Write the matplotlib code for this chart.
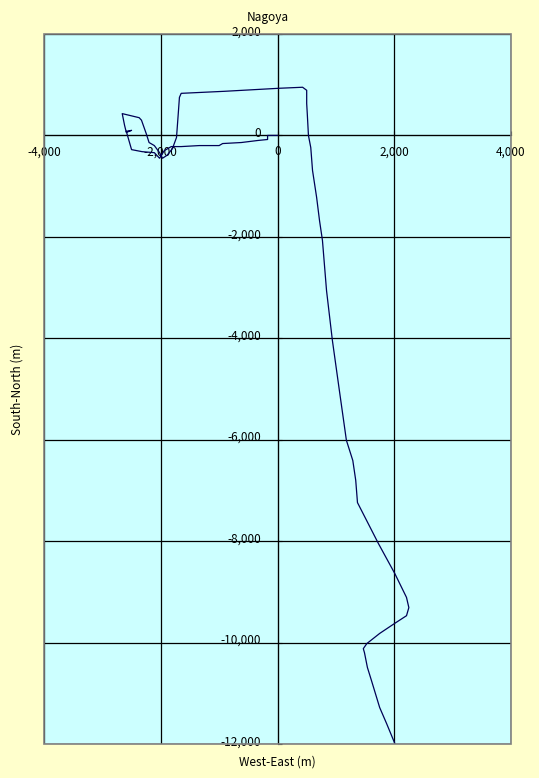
import matplotlib
matplotlib.use("Agg")
import matplotlib.pyplot as plt
import matplotlib.transforms as mtransforms
from matplotlib.patches import Rectangle

plt.rcParams['font.family'] = ['Noto Sans CJK JP', 'DejaVu Sans']
plt.rcParams['axes.unicode_minus'] = False

# track (metres)
west_east = [0, -170, -170, -340, -620, -940, -1000, -1340, -1650, -1820,
             -1940, -2020, -2110, -2320, -2500, -2570, -2590, -2500, -2590, -2620,
             -2660, -2370, -2330, -2250, -2200, -2110, -2020, -1970, -1890, -1800,
             -1730, -1700, -1680, -1650, -910, 30, 430, 500, 500, 510,
             530, 570, 600, 670, 720, 770, 840, 940, 1060, 1180,
             1290, 1340, 1370, 1730, 2010, 2210, 2250, 2210, 2010, 1750,
             1530, 1470, 1490, 1540, 1610, 1750, 1870, 2010]
south_north = [0, 0, -80, -100, -140, -160, -200, -200, -220, -220,
               -300, -450, -340, -320, -280, 0, 80, 100, 60, 200,
               430, 350, 300, 40, -140, -200, -340, -450, -390, -260,
               -40, 430, 750, 830, 870, 930, 950, 890, 630, 430,
               0, -240, -690, -1220, -1680, -2070, -3060, -4040, -5030, -6010,
               -6410, -6800, -7240, -8050, -8640, -9110, -9310, -9470, -9620, -9820,
               -10020, -10120, -10200, -10490, -10750, -11280, -11600, -11990]

xticks = [-4000, -2000, 0, 2000, 4000]
yticks = [2000, 0, -2000, -4000, -6000, -8000, -10000, -12000]

fig = plt.figure(figsize=(5.39, 7.78), dpi=100, facecolor='#FFFFCC')
ax = fig.add_axes([44/539, 1-744/778, 467/539, 710/778])
ax.set_facecolor('#CCFFFF')

ax.plot(west_east, south_north, color='#000055', lw=0.9, zorder=3)

ax.set_xlim(-4000, 4000)
ax.set_ylim(-12000, 2000)
ax.set_xticks(xticks)
ax.set_yticks(yticks)
ax.set_xticklabels([f"{v:,}" for v in xticks])
ax.set_yticklabels([f"{v:,}" for v in yticks])
ax.grid(color='black', lw=0.9, zorder=1)
ax.set_axisbelow(True)

for s in ['top', 'right']:
    ax.spines[s].set_visible(False)
ax.spines['left'].set_position(('data', 0))
ax.spines['bottom'].set_position(('data', 0))
ax.spines['left'].set_color('black')
ax.spines['bottom'].set_color('black')
ax.tick_params(direction='in', length=3, labelsize=8.5)
ax.tick_params(axis='y', pad=12)
ax.tick_params(axis='x', pad=7)

# lift y labels a touch so the minus sign sits above the grid line
shift = mtransforms.ScaledTranslation(0, 2.6/72, fig.dpi_scale_trans)
for lab in ax.get_yticklabels():
    lab.set_transform(lab.get_transform() + shift)

ax.add_patch(Rectangle((0, 0), 1, 1, transform=ax.transAxes, fill=False,
                       edgecolor='#808080', lw=1.2, zorder=5, clip_on=False))

ax.set_title("Nagoya", fontsize=8.5, pad=9, x=0.48)
ax.text(0.5, -0.025, "West-East (m)", transform=ax.transAxes,
        ha='center', va='center', fontsize=8.5)
ax.text(-0.058, 0.5, "South-North (m)", transform=ax.transAxes,
        ha='center', va='center', rotation=90, fontsize=8.5)

fig.savefig("out.png", dpi=100, facecolor=fig.get_facecolor())
